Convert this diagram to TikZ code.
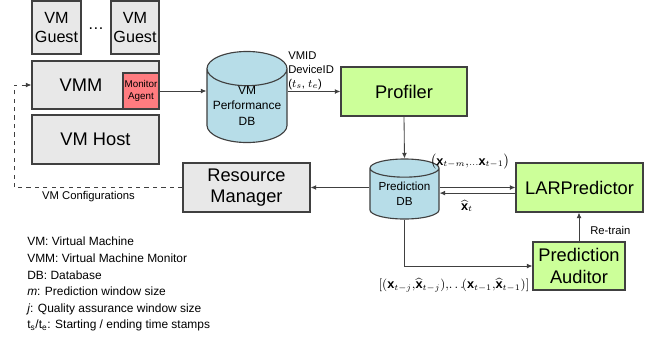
\documentclass[tikz,border=0pt]{standalone}
\usepackage{fontspec}
\setmainfont{Liberation Sans}
\usepackage{amsmath}
\usetikzlibrary{arrows.meta,positioning,shapes.geometric,calc}
\definecolor{BoxGray}  {HTML}{E8E8E8}
\definecolor{EdgeGray} {HTML}{404040}
\definecolor{DbTeal}   {HTML}{B7DDE8}
\definecolor{LimeGreen}{HTML}{CCFF99}
\definecolor{AgentRed} {HTML}{FF7C80}
\tikzset{
  gbox/.style={rectangle,draw=EdgeGray,line width=0.8pt,fill=#1,
               font=\fontsize{13}{15}\selectfont,align=center,inner sep=1pt},
  gbox/.default=BoxGray,
  dbcyl/.style={cylinder,shape border rotate=90,draw=EdgeGray,line width=0.8pt,
                fill=DbTeal,font=\fontsize{8.5}{11}\selectfont,align=center,
                inner sep=0pt,anchor=shape center},
  arr/.style={-{Latex[length=4pt,width=3.5pt]},line width=0.6pt,color=EdgeGray},
  lbl/.style={font=\fontsize{8}{10}\selectfont,inner sep=0pt},
  mlbl/.style={font=\fontsize{9}{11}\selectfont,inner sep=0pt},
}

\begin{document}
\begin{tikzpicture}[x=0.025cm,y=-0.025cm]
  \useasboundingbox (0,0) rectangle (656,343);

  % host side
  \node[gbox,minimum width=1.225cm,minimum height=1.325cm,
        font=\fontsize{11.5}{13.5}\selectfont] (guestA) at (56.5,27.5) {VM\\Guest};
  \node[gbox,minimum width=1.2cm,minimum height=1.325cm,
        font=\fontsize{11.5}{13.5}\selectfont] (guestB) at (135,27.5) {VM\\Guest};
  \node[font=\fontsize{11.5}{13.5}\selectfont] (dots) at (96,29) {\dots};
  \node[gbox,minimum width=3.175cm,minimum height=1.2cm] (vmm) at (95.5,85) {};
  \node[font=\fontsize{13}{15}\selectfont] (vmmtxt) at (81,85) {VMM};
  \node[gbox=AgentRed,minimum width=0.9cm,minimum height=0.9cm,
        font=\fontsize{7}{8.5}\selectfont] (agent) at (141,91) {Monitor\\Agent};
  \node[gbox,minimum width=3.175cm,minimum height=1.225cm] (host) at (95.5,139.5) {VM Host};

  % databases
  \node[dbcyl,minimum width=2cm,minimum height=1.95cm,aspect=0.5] (perfdb)
    at (247,97) {VM\\Performance\\DB};
  \node[dbcyl,minimum width=1.725cm,minimum height=1.5cm,aspect=0.35,
        font=\fontsize{8.3}{10.5}\selectfont] (preddb) at (404.5,189) {Prediction\\DB};

  % processing boxes
  \node[gbox=LimeGreen,minimum width=3.15cm,minimum height=1.225cm] (profiler)
    at (404,91.5) {Profiler};
  \node[gbox,minimum width=3.175cm,minimum height=1.225cm] (resmgr)
    at (246.5,187.5) {Resource\\Manager};
  \node[gbox=LimeGreen,minimum width=3.175cm,minimum height=1.225cm] (lar)
    at (579.5,187.5) {LARPredictor};
  \node[gbox=LimeGreen,minimum width=2.3cm,minimum height=1.2cm] (auditor)
    at (579,266) {Prediction\\Auditor};

  % connectors
  \draw[arr] (agent.east) -- (perfdb.west |- agent.east);
  \draw[arr] (perfdb.east |- profiler.west) -- (profiler.west);
  \node[lbl,align=left,anchor=south west] (ids) at (288,90)
    {VMID\\DeviceID\\($t_s$, $t_e$)};
  \draw[arr] (profiler.south) -- (preddb.north);
  \draw[arr] (preddb.west |- resmgr.east) -- (resmgr.east);
  \draw[arr] (preddb.east |- lar.west) -- (lar.west);
  \draw[arr] ([yshift=-0.14cm]lar.west) -- ([yshift=-0.14cm]lar.west -| preddb.east);
  \node[mlbl] (obs) at (470,162)
    {$\bigl(\mathbf{x}_{t-m},\!{\scriptstyle\ldots}\mathbf{x}_{t-1}\bigr)$};
  \node[mlbl] (est) at (467,206) {$\widehat{\mathbf{x}}_t$};
  \draw[arr] (auditor.north) -- (lar.south -| auditor.north);
  \node[lbl,anchor=west] (retrain) at (590,230) {Re-train};
  \draw[arr] (preddb.south) |- (auditor.west);
  \node[mlbl] (pairs) at (454,285)
    {$[(\mathbf{x}_{t-j},\!\widehat{\mathbf{x}}_{t-j}),\!{\ldots}\!(\mathbf{x}_{t-1},\!\widehat{\mathbf{x}}_{t-1})]$};
  \coordinate (cfg) at (14,188);
  \draw[arr,dashed] (resmgr.west) -- (resmgr.west -| cfg) |- (vmm.west);
  \node[lbl] (cfgtxt) at (88.5,197) {VM Configurations};

  % legend
  \node[anchor=north west,align=left,inner sep=0pt,
        font=\fontsize{8.5}{11.8}\selectfont] (legend) at (27,237)
    {VM: Virtual Machine\\
     VMM: Virtual Machine Monitor\\
     DB: Database\\
     \textit{m}: Prediction window size\\
     \textit{j}: Quality assurance window size\\
     t$_\text{s}$/t$_\text{e}$: Starting / ending time stamps};

\end{tikzpicture}
\end{document}
